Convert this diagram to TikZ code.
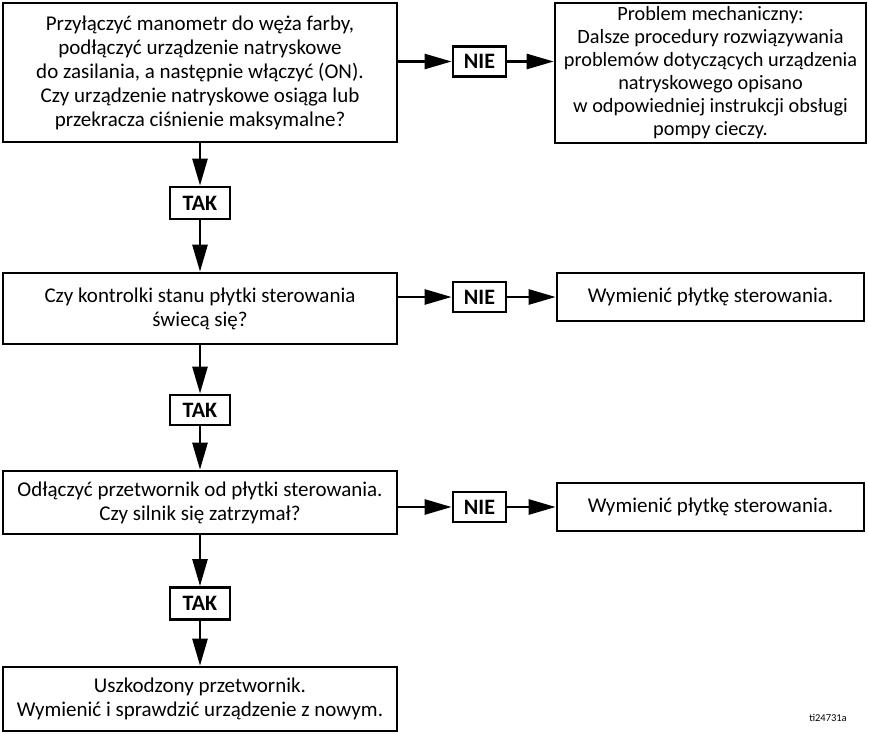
\documentclass[tikz,border=0pt]{standalone}
\usepackage{fontspec}
\setmainfont{Carlito}
\usetikzlibrary{arrows.meta, positioning}

\begin{document}
\begin{tikzpicture}[x=1pt, y=-1pt,
    every node/.style={font=\fontsize{21}{24}\selectfont, inner sep=2pt},
    stepbox/.style={draw, line width=2.6pt, align=center, minimum width=394pt},
    sidebox/.style={draw, line width=2.6pt, align=center, minimum width=307pt, minimum height=48pt},
    answer/.style={draw, line width=2.8pt, font=\fontsize{22}{24}\selectfont\bfseries,
        minimum width=53pt, minimum height=30pt, inner sep=1pt},
    flow/.style={line width=2.6pt, -{Triangle[length=27pt, width=15pt]}}
  ]
  \useasboundingbox (0,0) rectangle (869,733);

  % left column
  \node[stepbox, minimum height=139pt] (pressure) at (200,72.5)
    {Przyłączyć manometr do węża farby,\\podłączyć urządzenie natryskowe\\do zasilania, a następnie włączyć (ON).\\Czy urządzenie natryskowe osiąga lub\\przekracza ciśnienie maksymalne?};
  \node[answer, minimum width=60pt, minimum height=32pt] (yes1) at (200,203) {TAK};
  \node[stepbox, minimum height=71pt] (leds) at (200,308.5)
    {Czy kontrolki stanu płytki sterowania\\świecą się?};
  \node[answer, minimum width=60pt, minimum height=30pt] (yes2) at (200,410) {TAK};
  \node[stepbox, minimum height=63pt] (motor) at (200,502.5)
    {Odłączyć przetwornik od płytki sterowania.\\Czy silnik się zatrzymał?};
  \node[answer, minimum width=60pt, minimum height=32pt] (yes3) at (200,603.5) {TAK};
  \node[stepbox, minimum height=64pt] (sensor) at (200,699)
    {Uszkodzony przetwornik.\\Wymienić i sprawdzić urządzenie z nowym.};

  % right column
  \node[answer] (no1) at (479.5,61.5) {NIE};
  \node[draw, line width=2.6pt, align=center, minimum width=311pt, minimum height=140pt,
    inner xsep=0pt, font=\fontsize{20.3}{23}\selectfont] (mech) at (710.5,73)
    {Problem mechaniczny:\\Dalsze procedury rozwiązywania\\problemów dotyczących urządzenia\\natryskowego opisano\\w odpowiedniej instrukcji obsługi\\pompy cieczy.};
  \node[answer] (no2) at (479.5,297) {NIE};
  \node[sidebox] (board1) at (710.5,297) {Wymienić płytkę sterowania.};
  \node[answer] (no3) at (479.5,507) {NIE};
  \node[sidebox] (board2) at (710.5,507) {Wymienić płytkę sterowania.};

  \node[font=\fontsize{10.5}{12}\selectfont] (code) at (828,718) {ti24731a};

  \draw[flow] (pressure.south) -- (yes1);
  \draw[flow] (yes1) -- (leds);
  \draw[flow] (leds) -- (yes2);
  \draw[flow] (yes2) -- (motor);
  \draw[flow] (motor) -- (yes3);
  \draw[flow] (yes3) -- (sensor);

  \draw[flow] (no1 -| pressure.east) -- (no1);
  \draw[flow] (no1) -- (no1 -| mech.west);
  \draw[flow] (no2 -| leds.east) -- (no2);
  \draw[flow] (no2) -- (board1);
  \draw[flow] (no3 -| motor.east) -- (no3);
  \draw[flow] (no3) -- (board2);
\end{tikzpicture}
\end{document}
